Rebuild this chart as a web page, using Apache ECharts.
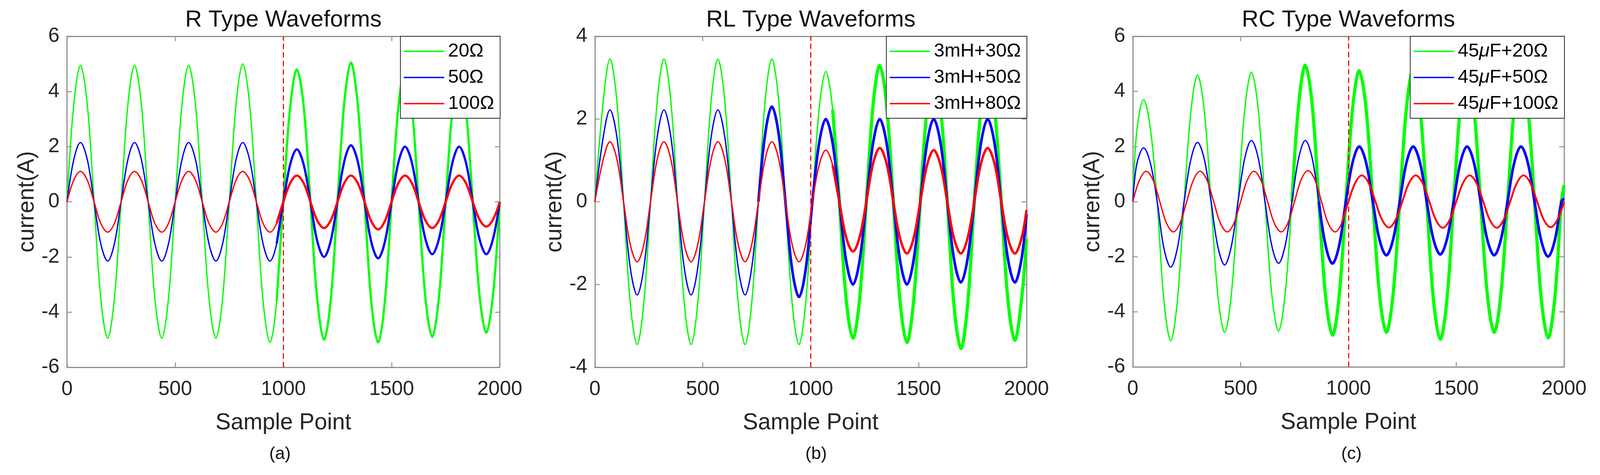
<!DOCTYPE html>
<html>
<head>
<meta charset="utf-8">
<script src="https://cdn.jsdelivr.net/npm/echarts@6/dist/echarts.min.js"></script>
<style>
html,body{margin:0;padding:0;background:#fff;overflow:hidden;}
#c{width:100vw;height:100vh;}
</style>
</head>
<body>
<div id="c"></div>
<script>
// ---------------- data ----------------
const panelTitles = ['R Type Waveforms', 'RL Type Waveforms', 'RC Type Waveforms'];
const panelLabels = ['(a)', '(b)', '(c)'];
const xTickValues = [0, 500, 1000, 1500, 2000];
const namesA = ['20Ω', '50Ω', '100Ω'];
const namesB = ['3mH+30Ω', '3mH+50Ω', '3mH+80Ω'];
const namesC = ['45μF+20Ω', '45μF+50Ω', '45μF+100Ω'];
const faultPoint = 1000;

// sample points where values were read (in phase / lagging / leading waveforms)
const xGridA = [0,31,62,94,125,156,188,219,
  250,281,312,344,375,406,438,469,
  500,531,562,594,625,656,688,719,
  750,781,812,844,875,906,938,969,
  1000,1031,1062,1094,1125,1156,1188,1219,
  1250,1281,1312,1344,1375,1406,1438,1469,
  1500,1531,1562,1594,1625,1656,1688,1719,
  1750,1781,1812,1844,1875,1906,1938,1969,
  2000];
const xGridB = [0,39,70,102,133,164,196,227,
  258,289,320,352,383,414,446,477,
  508,539,570,602,633,664,696,727,
  758,789,820,852,883,914,946,977,
  1008,1039,1070,1102,1133,1164,1196,1227,
  1258,1289,1320,1352,1383,1414,1446,1477,
  1508,1539,1570,1602,1633,1664,1696,1727,
  1758,1789,1820,1852,1883,1914,1946,1977,
  2000];
const xGridC = [0,19,50,82,113,144,176,207,238,
  269,300,332,363,394,426,457,488,
  519,550,582,613,644,676,707,738,
  769,800,832,863,894,926,957,988,
  1019,1050,1082,1113,1144,1176,1207,1238,
  1269,1300,1332,1363,1394,1426,1457,1488,
  1519,1550,1582,1613,1644,1676,1707,1738,
  1769,1800,1832,1863,1894,1926,1957,1988,
  2000];

// (a) R type
const green20 = [0,3.5,4.95,3.5,0,-3.5,-4.95,-3.5,
  0,3.5,4.95,3.5,0,-3.5,-4.95,-3.5,
  0,3.5,4.95,3.5,0,-3.5,-4.95,-3.5,
  0,3.52,5.0,3.52,0,-3.58,-5.1,-3.6,
  0.1,3.4,4.8,3.45,0,-3.5,-5.0,-3.55,
  0,3.55,5.05,3.5,0,-3.6,-5.1,-3.6,
  0,3.4,4.8,3.4,0,-3.45,-4.9,-3.45,
  0,3.3,4.7,3.3,0,-3.35,-4.75,-3.35,
  0];
const blue50 = [0,1.52,2.15,1.52,0,-1.52,-2.15,-1.52,
  0,1.52,2.15,1.52,0,-1.52,-2.15,-1.52,
  0,1.52,2.15,1.52,0,-1.52,-2.15,-1.52,
  0,1.52,2.15,1.52,0,-1.52,-2.15,-1.52,
  0,1.34,1.9,1.34,0,-1.41,-2.0,-1.41,
  0,1.45,2.05,1.45,0,-1.45,-2.05,-1.45,
  0,1.41,2.0,1.41,0,-1.34,-1.9,-1.34,
  0,1.41,2.0,1.41,0,-1.34,-1.9,-1.34,
  0];
const red100 = [0,0.78,1.1,0.78,0,-0.78,-1.1,-0.78,
  0,0.78,1.1,0.78,0,-0.78,-1.1,-0.78,
  0,0.78,1.1,0.78,0,-0.78,-1.1,-0.78,
  0,0.78,1.1,0.78,0,-0.78,-1.1,-0.78,
  0,0.67,0.95,0.67,0,-0.67,-0.95,-0.67,
  0,0.67,0.95,0.67,0,-0.7,-1.0,-0.7,
  0,0.67,0.95,0.67,0,-0.67,-0.95,-0.67,
  0,0.67,0.95,0.67,0,-0.64,-0.9,-0.64,
  0];

// (b) RL type
const greenRL30 = [0,2.44,3.45,2.44,0,-2.44,-3.45,-2.44,
  0,2.44,3.45,2.44,0,-2.44,-3.45,-2.44,
  0,2.44,3.45,2.44,0,-2.44,-3.45,-2.44,
  0,2.44,3.45,2.44,0,-2.44,-3.45,-2.44,
  0,2.23,3.15,2.23,0,-2.33,-3.3,-2.33,
  0,2.33,3.3,2.33,0,-2.4,-3.4,-2.4,
  0,2.26,3.2,2.26,0,-2.5,-3.55,-2.5,
  0,2.26,3.2,2.26,0,-2.37,-3.35,-2.37,
  -0.9];
const blueRL50 = [0,1.57,2.22,1.57,0,-1.59,-2.25,-1.59,
  0,1.57,2.22,1.57,0,-1.59,-2.25,-1.59,
  0,1.57,2.22,1.57,0,-1.59,-2.25,-1.59,
  0,1.63,2.3,1.63,0,-1.63,-2.3,-1.63,
  0,1.41,2.0,1.41,0,-1.41,-2.0,-1.41,
  0,1.41,2.0,1.41,0,-1.41,-2.0,-1.41,
  0,1.41,2.0,1.41,0,-1.38,-1.95,-1.38,
  0,1.41,2.0,1.41,0,-1.38,-1.95,-1.38,
  -0.3];
const redRL80 = [0,1.03,1.45,1.03,0,-1.03,-1.45,-1.03,
  0,1.03,1.45,1.03,0,-1.03,-1.45,-1.03,
  0,1.03,1.45,1.03,0,-1.03,-1.45,-1.03,
  0,1.03,1.45,1.03,0,-1.03,-1.45,-1.03,
  0,0.88,1.25,0.88,0,-0.85,-1.2,-0.85,
  0,0.92,1.3,0.92,0,-0.88,-1.25,-0.88,
  0,0.88,1.25,0.88,0,-0.88,-1.25,-0.88,
  0,0.92,1.3,0.92,0,-0.88,-1.25,-0.88,
  -0.2];

// (c) RC type
const greenRC20 = [0,
  2.62,3.7,2.62,0,-3.57,-5.05,-3.57,0,
  3.25,4.6,3.25,0,-3.36,-4.75,-3.36,0,
  3.32,4.7,3.32,0,-3.32,-4.7,-3.32,0,
  3.5,4.95,3.5,0,-3.43,-4.85,-3.43,0,
  3.36,4.75,3.36,0,-3.36,-4.75,-3.36,0,
  3.39,4.8,3.39,0,-3.54,-5.0,-3.54,0,
  3.39,4.8,3.39,0,-3.36,-4.75,-3.36,0,
  3.39,4.8,3.39,0,-3.5,-4.95,-3.5,0,
  0.6];
const blueRC50 = [0,
  1.38,1.95,1.38,0,-1.68,-2.38,-1.68,0,
  1.52,2.15,1.52,0,-1.62,-2.3,-1.62,0,
  1.57,2.22,1.57,0,-1.58,-2.24,-1.58,0,
  1.57,2.22,1.57,0,-1.59,-2.25,-1.59,0,
  1.41,2.0,1.41,0,-1.38,-1.95,-1.38,0,
  1.41,2.0,1.41,0,-1.36,-1.92,-1.36,0,
  1.41,2.0,1.41,0,-1.38,-1.95,-1.38,0,
  1.41,2.0,1.41,0,-1.41,-2.0,-1.41,0,
  0.1];
const redRC100 = [0,0.78,1.1,0.78,0,-0.78,-1.1,-0.78,
  0,0.78,1.1,0.78,0,-0.78,-1.1,-0.78,
  0,0.78,1.1,0.78,0,-0.78,-1.1,-0.78,
  0,0.8,1.12,0.8,0,-0.78,-1.1,-0.78,
  0,0.67,0.95,0.67,0,-0.66,-0.94,-0.66,
  0,0.67,0.95,0.67,0,-0.67,-0.95,-0.67,
  0,0.67,0.95,0.67,0,-0.67,-0.95,-0.67,
  0,0.67,0.95,0.67,0,-0.66,-0.93,-0.66,
  0];

// ---------------- layout / style (reference pixels, scaled to the viewport) ----------------
const REF_W = 4274, REF_H = 1217;
const W = window.innerWidth || REF_W, H = window.innerHeight || REF_H;
const sx = W / REF_W, sy = H / REF_H, fs = Math.min(sx, sy);
const X = v => v * sx, Y = v => v * sy, F = v => v * fs;

const FONT = '"Liberation Sans", Arial, Helvetica, sans-serif';
const lineColors = ['#00ff00', '#0000ff', '#ff0000'];
const frameColor = '#8c8c8c';
const textColor = '#262626';

const panels = [
  { title: panelTitles[0], label: panelLabels[0], names: namesA,
    xs: [xGridA, xGridA, xGridA], ys: [green20, blue50, red100],
    yMin: -6, yMax: 6, box: { left: 179, top: 93, width: 1156, height: 848 },
    titleX: 757, labelX: 748, legendRight: REF_W - 1336,
    noisyFrom: [1000, 1000, 1000], noisyWidth: [6, 6, 6] },
  { title: panelTitles[1], label: panelLabels[1], names: namesB,
    xs: [xGridB, xGridB, xGridB], ys: [greenRL30, blueRL50, redRL80],
    yMin: -4, yMax: 4, box: { left: 1589, top: 93, width: 1153, height: 848 },
    titleX: 2166, labelX: 2180, legendRight: REF_W - 2743,
    noisyFrom: [1130, 780, 1130], noisyWidth: [8.5, 7, 6.5] },
  { title: panelTitles[2], label: panelLabels[2], names: namesC,
    xs: [xGridC, xGridC, xGridA], ys: [greenRC20, blueRC50, redRC100],
    yMin: -6, yMax: 6, box: { left: 3026, top: 93, width: 1152, height: 847 },
    titleX: 3602, labelX: 3610, legendRight: REF_W - 4179,
    noisyFrom: [760, 880, 1000], noisyWidth: [8.5, 7, 5] }
];

const axisLineStyle = { show: true, onZero: false, lineStyle: { color: frameColor, width: F(3) } };
const tickStyle = { show: true, inside: true, length: F(13), lineStyle: { color: frameColor, width: F(2.5) } };

const grid = [], xAxis = [], yAxis = [], series = [], legend = [], title = [];

panels.forEach((p, i) => {
  grid.push({ left: X(p.box.left), top: Y(p.box.top), width: X(p.box.width), height: Y(p.box.height) });
  const xBase = { type: 'value', gridIndex: i, min: xTickValues[0], max: xTickValues[xTickValues.length - 1],
    interval: xTickValues[1] - xTickValues[0], splitLine: { show: false },
    axisLine: axisLineStyle, axisTick: tickStyle };
  xAxis.push(Object.assign({}, xBase, {
    position: 'bottom',
    name: 'Sample Point', nameLocation: 'middle', nameGap: Y(114),
    nameTextStyle: { fontSize: F(61), color: textColor, fontFamily: FONT },
    axisLabel: { show: true, fontSize: F(54), color: textColor, fontFamily: FONT, margin: Y(31),
      formatter: v => String(v) }
  }));
  xAxis.push(Object.assign({}, xBase, { position: 'top', axisLabel: { show: false } }));
  const yBase = { type: 'value', gridIndex: i, min: p.yMin, max: p.yMax, interval: 2,
    splitLine: { show: false }, axisLine: axisLineStyle, axisTick: tickStyle };
  yAxis.push(Object.assign({}, yBase, {
    position: 'left',
    name: 'current(A)', nameLocation: 'middle', nameGap: X(76),
    nameTextStyle: { fontSize: F(61), color: textColor, fontFamily: FONT },
    axisLabel: { show: true, fontSize: F(54), color: textColor, fontFamily: FONT, margin: X(20),
      formatter: v => String(v) }
  }));
  yAxis.push(Object.assign({}, yBase, { position: 'right', axisLabel: { show: false } }));

  p.names.forEach((name, j) => {
    const pts = p.xs[j].map((x, k) => [x, p.ys[j][k]]);
    const color = lineColors[j];
    const common = { type: 'line', name: name, xAxisIndex: 2 * i, yAxisIndex: 2 * i,
      smooth: 0.35, showSymbol: false, symbol: 'none', silent: true, animation: false,
      itemStyle: { color: color } };
    series.push(Object.assign({}, common, { data: pts, lineStyle: { color: color, width: F(3.5) } }));
    let k = pts.findIndex(pt => pt[0] >= p.noisyFrom[j]);
    if (k < 0) k = pts.length - 1;
    const noisy = Object.assign({}, common, { data: pts.slice(Math.max(0, k - 1)),
      lineStyle: { color: color, width: F(p.noisyWidth[j]) } });
    if (j === p.names.length - 1) {
      noisy.markLine = { silent: true, symbol: ['none', 'none'], animation: false,
        label: { show: false }, lineStyle: { color: '#ff0000', type: [F(14), F(9)], width: F(3) },
        data: [{ xAxis: faultPoint }] };
    }
    series.push(noisy);
  });

  legend.push({
    data: p.names, orient: 'vertical', right: X(p.legendRight), top: Y(p.box.top),
    icon: 'rect', itemWidth: F(108), itemHeight: F(3.5), itemGap: Y(18),
    padding: [Y(14), F(16), Y(13), F(9)], backgroundColor: '#ffffff',
    borderColor: '#262626', borderWidth: F(2), borderRadius: 0,
    selectedMode: false,
    formatter: n => n.replace('μ', '{i|μ}'),
    textStyle: { fontSize: F(51), color: '#000', fontFamily: FONT, padding: [0, 0, 0, F(5)],
      rich: { i: { fontSize: F(51), color: '#000', fontFamily: FONT, fontStyle: 'italic' } } }
  });

  title.push({ text: p.title, left: X(p.titleX), top: Y(22), textAlign: 'center', padding: 0,
    textStyle: { fontSize: F(62), fontWeight: 'normal', color: '#111', fontFamily: FONT } });
  title.push({ text: p.label, left: X(p.labelX), top: Y(1141), textAlign: 'center', padding: 0,
    textStyle: { fontSize: F(47), fontWeight: 'normal', color: '#111', fontFamily: FONT } });
});

const chart = echarts.init(document.getElementById('c'), null, { renderer: 'canvas' });
chart.setOption({
  animation: false,
  backgroundColor: '#ffffff',
  title: title,
  legend: legend,
  grid: grid,
  xAxis: xAxis,
  yAxis: yAxis,
  series: series
});
</script>
</body>
</html>
